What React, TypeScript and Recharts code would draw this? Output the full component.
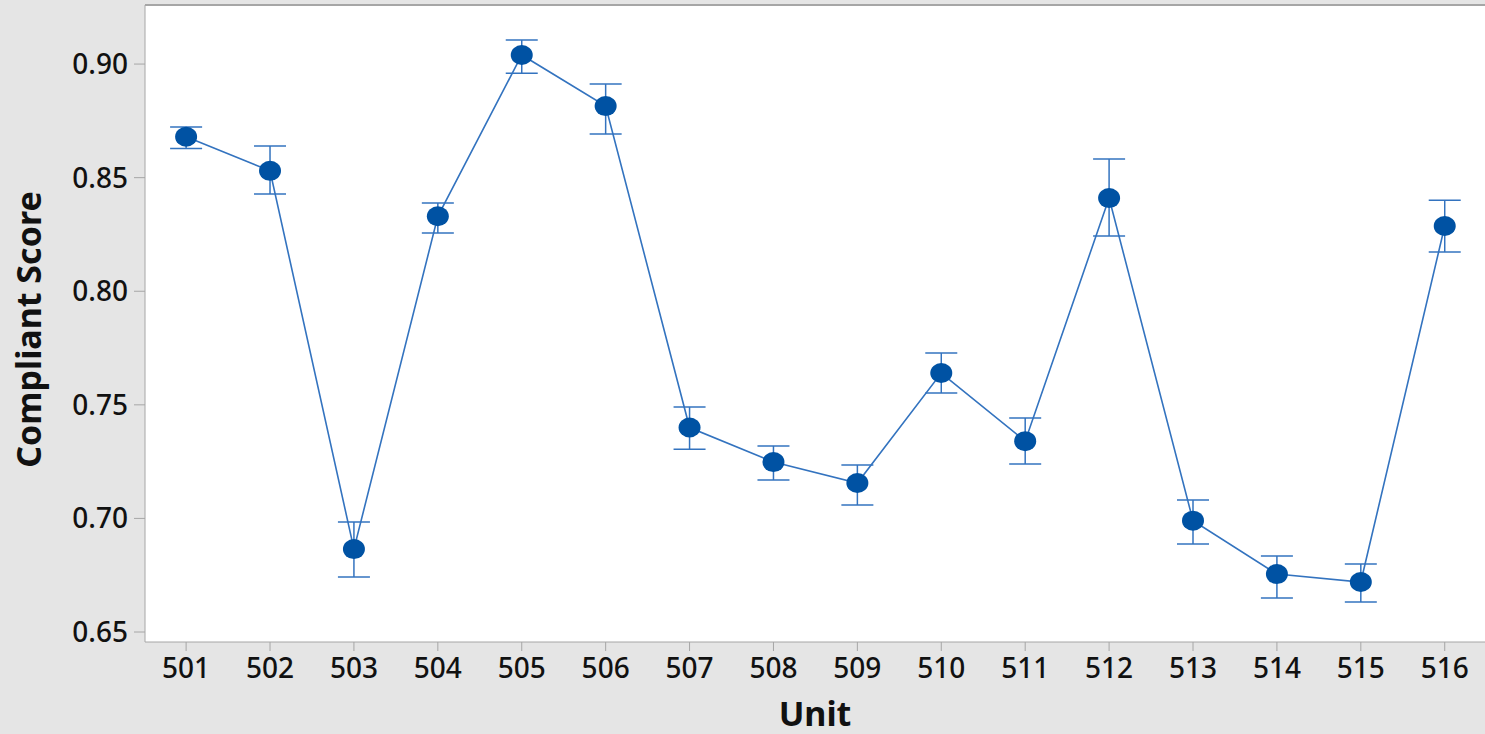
import React from 'react';
import {
  LineChart,
  Line,
  XAxis,
  YAxis,
  ErrorBar,
  CartesianGrid,
  ReferenceLine,
} from 'recharts';

// unit numbers on the x axis
const units = [501, 502, 503, 504, 505, 506, 507, 508, 509, 510, 511, 512, 513, 514, 515, 516];

// mean compliant score per unit
const scores = [
  0.868, 0.853, 0.6865, 0.833, 0.904, 0.8815, 0.740, 0.7248,
  0.7156, 0.764, 0.734, 0.841, 0.699, 0.6755, 0.672, 0.8287,
];

// interval bounds per unit
const lowerBounds = [
  0.8628, 0.8428, 0.6742, 0.8256, 0.896, 0.8692, 0.7305, 0.7169,
  0.7059, 0.7552, 0.7239, 0.8243, 0.6887, 0.665, 0.6632, 0.8173,
];
const upperBounds = [
  0.8723, 0.8639, 0.6984, 0.8388, 0.9106, 0.8912, 0.749, 0.7319,
  0.7235, 0.7728, 0.7442, 0.8582, 0.7081, 0.6835, 0.6799, 0.8401,
];

const yTicks = [0.65, 0.7, 0.75, 0.8, 0.85, 0.9];

const rows = units.map((u, i) => ({
  unit: u,
  score: scores[i],
  err: [scores[i] - lowerBounds[i], upperBounds[i] - scores[i]],
}));

const LINE = '#3373bf';
const DOT = '#0052a3';
const AXIS = '#a6a6a6';
const FONT = '"Noto Sans", "Open Sans", sans-serif';

const Marker = (props: any) => {
  const { cx, cy, index } = props;
  if (cx == null || cy == null) return null;
  return <ellipse key={`m-${index}`} cx={cx} cy={cy} rx={11} ry={10} fill={DOT} />;
};

export default function App() {
  return (
    <div
      style={{
        position: 'absolute',
        top: 0,
        left: 0,
        width: 1485,
        height: 734,
        background: '#e5e5e5',
        fontFamily: FONT,
      }}
    >
      <LineChart
        width={1485}
        height={734}
        data={rows}
        margin={{ top: 5, right: 0, bottom: 0, left: 0 }}
      >
        <CartesianGrid fill="#ffffff" horizontal={false} vertical={false} />
        <XAxis
          dataKey="unit"
          type="number"
          domain={[500.51, 516.48]}
          ticks={units}
          allowDataOverflow
          height={92}
          stroke={AXIS}
          tickSize={9}
          tickMargin={7}
          tick={{ fill: '#111', fontSize: 28, fontWeight: 500, fontFamily: FONT }}
          label={{
            value: 'Unit',
            position: 'insideBottom',
            offset: 8,
            fill: '#111',
            fontSize: 34,
            fontWeight: 700,
            fontFamily: FONT,
          }}
        />
        <YAxis
          type="number"
          domain={[0.6456, 0.926]}
          ticks={yTicks}
          allowDataOverflow
          width={145}
          stroke={AXIS}
          tickSize={11}
          tickMargin={6}
          tickFormatter={(v: number) => v.toFixed(2)}
          tick={{ fill: '#111', fontSize: 28, fontWeight: 500, fontFamily: FONT }}
          label={{
            value: 'Compliant Score',
            angle: -90,
            position: 'insideLeft',
            offset: 29,
            dy: 6,
            textAnchor: 'middle',
            fill: '#111',
            fontSize: 34,
            fontWeight: 700,
            fontFamily: FONT,
          }}
        />
        <ReferenceLine y={0.926} stroke={AXIS} strokeWidth={2} />
        <Line
          dataKey="score"
          stroke={LINE}
          strokeWidth={1.6}
          dot={Marker}
          activeDot={false}
          isAnimationActive={false}
        >
          <ErrorBar
            dataKey="err"
            direction="y"
            width={16}
            stroke={LINE}
            strokeWidth={1.5}
            isAnimationActive={false}
          />
        </Line>
      </LineChart>
    </div>
  );
}
